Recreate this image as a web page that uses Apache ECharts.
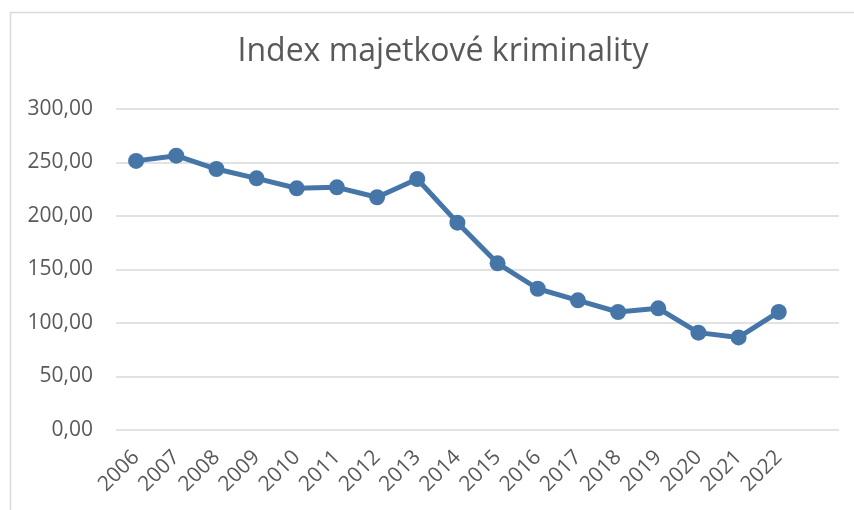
<!DOCTYPE html>
<html>
<head>
<meta charset="utf-8">
<script src="https://cdn.jsdelivr.net/npm/echarts@6/dist/echarts.min.js"></script>
<style>html,body{margin:0;padding:0;background:#fff;}#c{width:854px;height:510px;}</style>
</head>
<body>
<div id="c"></div>
<script>
const titleText = 'Index majetkové kriminality';
const years = ['2006','2007','2008','2009','2010','2011','2012','2013','2014','2015','2016','2017','2018','2019','2020','2021','2022'];
const values = [251.5, 256.4, 243.9, 235.2, 225.9, 226.8, 217.5, 234.6, 193.8, 155.8, 132.0, 121.2, 110.3, 113.7, 91.0, 86.5, 110.3];
const yTicks = [0, 50, 100, 150, 200, 250, 300];

const chart = echarts.init(document.getElementById('c'), null, {renderer: 'canvas'});
const fam = '"Open Sans", "Noto Sans", sans-serif';
chart.setOption({
  animation: false,
  backgroundColor: '#fff',
  graphic: [{
    type: 'rect', left: 8, top: 10, shape: {width: 900, height: 600},
    style: {fill: 'none', stroke: '#d9d9d9', lineWidth: 1.5}, silent: true, z: -1
  }],
  title: {
    text: titleText, left: 438, top: 31, textAlign: 'center',
    textStyle: {fontFamily: fam, fontSize: 32, fontWeight: 'normal', color: '#595959'}
  },
  grid: {left: 116, right: 15, top: 109, bottom: 80, containLabel: false},
  xAxis: {
    type: 'category',
    data: years.concat(['']),
    boundaryGap: true,
    axisLine: {show: false},
    axisTick: {show: false},
    axisLabel: {rotate: 45, margin: 24, interval: 0, fontFamily: fam, fontSize: 21, color: '#595959'}
  },
  yAxis: {
    type: 'value', min: yTicks[0], max: yTicks[yTicks.length - 1], interval: 50,
    axisLine: {show: false}, axisTick: {show: false},
    splitLine: {lineStyle: {color: '#d9d9d9', width: 1.5}},
    axisLabel: {
      margin: 23, fontFamily: fam, fontSize: 21, color: '#595959',
      formatter: v => v.toFixed(2).replace('.', ',')
    }
  },
  series: [{
    type: 'line', data: values,
    symbol: 'circle', symbolSize: 16,
    lineStyle: {color: '#4676a8', width: 5},
    itemStyle: {color: '#4676a8'}
  }]
});
</script>
</body>
</html>
